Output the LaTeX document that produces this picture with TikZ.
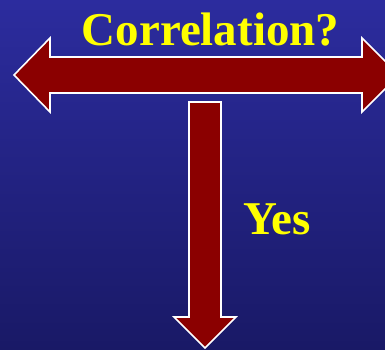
\documentclass[tikz,border=0pt]{standalone}
\usepackage{fontspec}
\setmainfont{Liberation Serif}
\definecolor{bgtop}{RGB}{44,44,158}
\definecolor{bgbot}{RGB}{25,25,102}
\definecolor{arrowred}{RGB}{139,0,0}
\definecolor{txtyellow}{RGB}{255,255,0}
\begin{document}
\begin{tikzpicture}[x=1pt,y=1pt,
  arrowshape/.style={fill=arrowred,draw=white,line width=1.6pt,line join=miter},
  label/.style={text=txtyellow,font=\bfseries\fontsize{47}{50}\selectfont,inner sep=0pt}]
\useasboundingbox (0,0) rectangle (385,350);
\clip (0,0) rectangle (385,350);
\shade[top color=bgtop,bottom color=bgbot] (0,0) rectangle (385,350);
% horizontal double arrow
\draw[arrowshape] (14,275) -- (50,312) -- (50,293) -- (362,293) -- (362,312) -- (399,275)
  -- (362,238) -- (362,257) -- (50,257) -- (50,238) -- cycle;
% vertical arrow
\draw[arrowshape] (189,248) -- (221,248) -- (221,33) -- (236,33) -- (205,2) -- (174,33) -- (189,33) -- cycle;
\node[label,anchor=base] (corr) at (210.5,304) {Correlation?};
\node[label,anchor=base] (yes) at (277,115) {Yes};
\end{tikzpicture}
\end{document}
